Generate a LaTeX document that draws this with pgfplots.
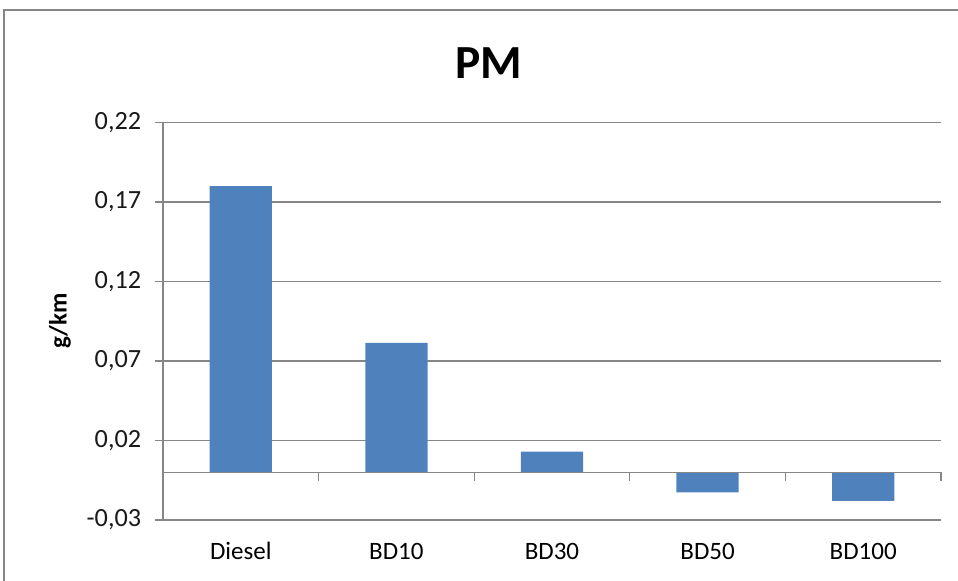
\documentclass[border=0pt]{standalone}
\usepackage{pgfplots}
\pgfplotsset{compat=1.18}
\usepackage{fontspec}
\setmainfont{Carlito}
\definecolor{barblue}{RGB}{79,129,189}
\definecolor{gridgray}{RGB}{134,134,134}
\begin{document}
\begin{tikzpicture}
\useasboundingbox (0pt,0pt) rectangle (383.2pt,232.4pt);
\draw[gridgray,line width=0.8pt] (1.6pt,0pt) -- (1.6pt,228.4pt) -- (383.2pt,228.4pt);
\node[font=\bfseries\fontsize{19}{22}\selectfont] at (195.6pt,207.2pt) {PM};
\node[font=\bfseries\fontsize{10}{12}\selectfont,rotate=90] at (24pt,104pt) {g/km};
\begin{axis}[
  at={(65.2pt,24.4pt)}, anchor=south west,
  scale only axis, width=311.2pt, height=159pt,
  xmin=-0.5, xmax=4.5, ymin=-0.03, ymax=0.22,
  axis x line=none,
  axis y line*=left,
  axis line style={gridgray, line width=0.5pt, -},
  ytick={-0.03,0.02,0.07,0.12,0.17,0.22},
  yticklabels={{-0,03},{0,02},{0,07},{0,12},{0,17},{0,22}},
  tick align=outside, major tick length=3.2pt,
  tick style={gridgray, line width=0.5pt},
  ymajorgrids, grid style={gridgray, line width=0.5pt},
  yticklabel style={font=\fontsize{10.5}{12}\selectfont, text=black!90, xshift=-2pt},
  clip=false,
]
\addplot[ybar, bar width=0.4, fill=barblue, draw=none] coordinates {
  (0,0.180) (1,0.0814) (2,0.013) (3,-0.0126) (4,-0.018)
};
\draw[gridgray, line width=0.5pt] (axis cs:-0.5,0) -- (axis cs:4.5,0);
\draw[gridgray, line width=0.5pt] (axis cs:0.5,0) -- ([yshift=-3.6pt]axis cs:0.5,0);
\draw[gridgray, line width=0.5pt] (axis cs:1.5,0) -- ([yshift=-3.6pt]axis cs:1.5,0);
\draw[gridgray, line width=0.5pt] (axis cs:2.5,0) -- ([yshift=-3.6pt]axis cs:2.5,0);
\draw[gridgray, line width=0.5pt] (axis cs:3.5,0) -- ([yshift=-3.6pt]axis cs:3.5,0);
\draw[gridgray, line width=0.5pt] (axis cs:4.5,0) -- ([yshift=-3.6pt]axis cs:4.5,0);
\node[font=\fontsize{10}{12}\selectfont, anchor=base] at ([yshift=-16pt]axis cs:0,-0.03) {Diesel};
\node[font=\fontsize{10}{12}\selectfont, anchor=base] at ([yshift=-16pt]axis cs:1,-0.03) {BD10};
\node[font=\fontsize{10}{12}\selectfont, anchor=base] at ([yshift=-16pt]axis cs:2,-0.03) {BD30};
\node[font=\fontsize{10}{12}\selectfont, anchor=base] at ([yshift=-16pt]axis cs:3,-0.03) {BD50};
\node[font=\fontsize{10}{12}\selectfont, anchor=base] at ([yshift=-16pt]axis cs:4,-0.03) {BD100};
\end{axis}
\end{tikzpicture}
\end{document}
